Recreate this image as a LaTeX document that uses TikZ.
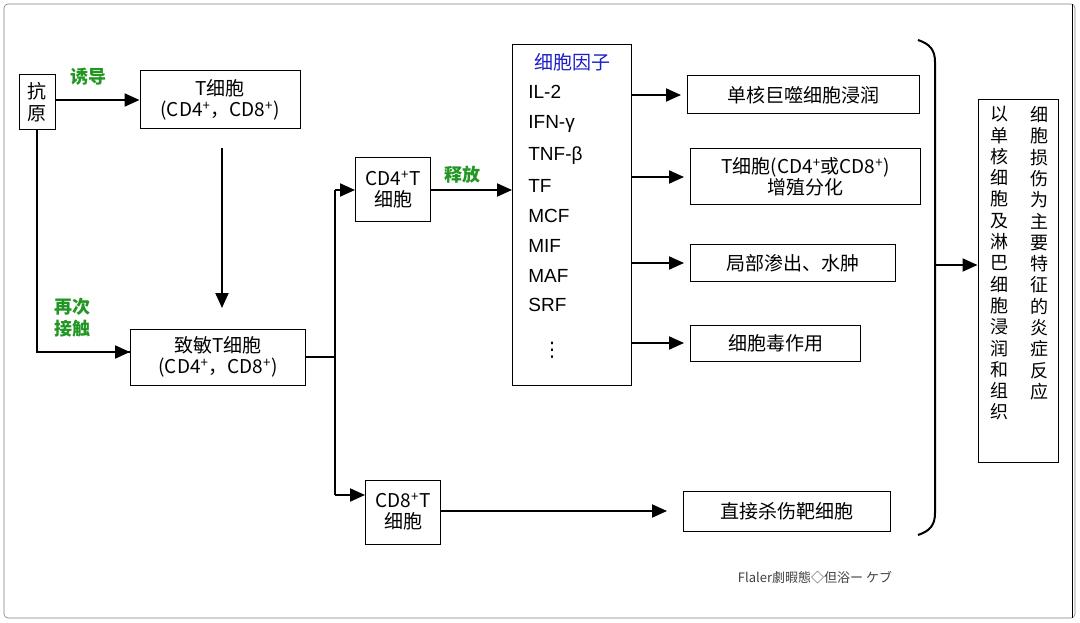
\documentclass[tikz,border=0pt]{standalone}
\usepackage{fontspec}
\setmainfont{Liberation Sans}
\newfontfamily\cjk{Noto Sans CJK SC}
\newfontfamily\dvs{DejaVu Sans}
\usetikzlibrary{positioning,arrows.meta}
\tikzset{every picture/.style={line width=0.75pt}}
\tikzset{box/.style={draw,line width=1pt,inner sep=2pt,align=center,font=\cjk\fontsize{19}{21}\selectfont},
  lbl/.style={inner sep=0pt,font=\cjk\bfseries\fontsize{18}{20}\selectfont,text={rgb,255:red,34;green,150;blue,34}},
  arr/.style={line width=2pt,-{Triangle[length=15pt,width=13pt]}},
  ln/.style={line width=1.6pt},
  ck/.style={anchor=west,inner sep=0pt,font=\fontsize{19}{21}\selectfont}}
\begin{document}
\begin{tikzpicture}[x=1pt,y=1pt,yscale=-1]
\useasboundingbox (0,0) rectangle (1080,623);
\draw[rounded corners=4pt,line width=0.6pt,gray] (4,4) rectangle (1075,618);

% Text Node
\node[box,minimum width=36pt,minimum height=55pt,inner sep=1pt,font=\cjk\fontsize{19}{22}\selectfont] (ag) at (37,102) {抗\\原};
\node[box,minimum width=160pt,minimum height=58pt] (t) at (220,100) {T细胞\\(CD4\textsuperscript{+}，CD8\textsuperscript{+})};
\node[box,minimum width=175pt,minimum height=56pt] (st) at (218,357) {致敏T细胞\\(CD4\textsuperscript{+}，CD8\textsuperscript{+})};
\node[box,minimum width=75pt,minimum height=64pt] (cd4) at (393,190) {CD4\textsuperscript{+}T\\细胞};
\node[box,minimum width=75pt,minimum height=64pt] (cd8) at (403,512) {CD8\textsuperscript{+}T\\细胞};
\node[box,minimum width=119pt,minimum height=340pt] (ck) at (572,215) {};
\node[inner sep=0pt,font=\cjk\fontsize{19}{20}\selectfont,text={rgb,255:red,30;green,30;blue,200}] at (572,62) {细胞因子};
\foreach \y/\t in {92/IL-2,124/IFN-γ,156/TNF-β,186/TF,216/MCF,246/MIF,276/MAF,305/SRF}
  \node[ck] at (528,\y) {\t};
\node[inner sep=0pt,font=\dvs\fontsize{20}{20}\selectfont] at (552,350) {⋮};
\node[box,minimum width=232pt,minimum height=38pt,anchor=west] (r1) at (687,95) {单核巨噬细胞浸润};
\node[box,minimum width=230pt,minimum height=56pt,anchor=west] (r2) at (690,177) {T细胞(CD4\textsuperscript{+}或CD8\textsuperscript{+})\\增殖分化};
\node[box,minimum width=205pt,minimum height=37pt,anchor=west] (r3) at (690,263) {局部渗出、水肿};
\node[box,minimum width=170pt,minimum height=36pt,anchor=west] (r4) at (690,343) {细胞毒作用};
\node[box,minimum width=207pt,minimum height=40pt,anchor=west] (r5) at (683,511) {直接杀伤靶细胞};
\node[box,minimum width=80pt,minimum height=362pt] (res) at (1018,281) {};
\node[inner sep=0pt,align=center,font=\cjk\fontsize{18}{21.3}\selectfont,anchor=north] at (999,106) {以\\单\\核\\细\\胞\\及\\淋\\巴\\细\\胞\\浸\\润\\和\\组\\织};
\node[inner sep=0pt,align=center,font=\cjk\fontsize{18}{21.3}\selectfont,anchor=north] at (1039,106) {细\\胞\\损\\伤\\为\\主\\要\\特\\征\\的\\炎\\症\\反\\应};
\node[lbl] (l1) at (88,77) {诱导};
\node[lbl,align=center,font=\cjk\bfseries\fontsize{18}{22}\selectfont] (l2) at (72,318) {再次\\接触};
\node[lbl] (l3) at (462,175) {释放};
\node[inner sep=0pt,font=\cjk\fontsize{13}{15}\selectfont,text=black!75] at (815,578) {Flaler劇暇態◇但浴ー ケブ};

% Straight Lines
\draw[arr] (ag.east|-t.west) -- (t.west);
\draw[arr] (222,148) -- (222,308);
\draw[ln] (ag.south) |- (130,352);
\draw[arr] (100,352) -- (st.west|-100,352);
\draw[ln] (st.east) -- (335,357);
\draw[ln] (335,190) -- (335,495);
\draw[arr] (335,190) -- (cd4.west);
\draw[arr] (335,495) -- (cd8.west|-335,495);
\draw[arr] (cd4.east) -- (ck.west|-cd4.east);
\foreach \r in {r1,r2,r3,r4}
  \draw[arr] (ck.east|-\r.west) -- ([xshift=-6pt]\r.west);
\draw[arr] (cd8.east|-r5.west) -- ([xshift=-16pt]r5.west);
% brace
\draw[line width=2pt] (918,40) .. controls (930,44) and (935,50) .. (935,62) -- (935,513) .. controls (935,525) and (930,531) .. (918,535);
\draw[arr] (935,265) -- (res.west|-935,265);
\draw[line width=0.8pt] (1072,4) -- (1072,618);
\end{tikzpicture}
\end{document}
